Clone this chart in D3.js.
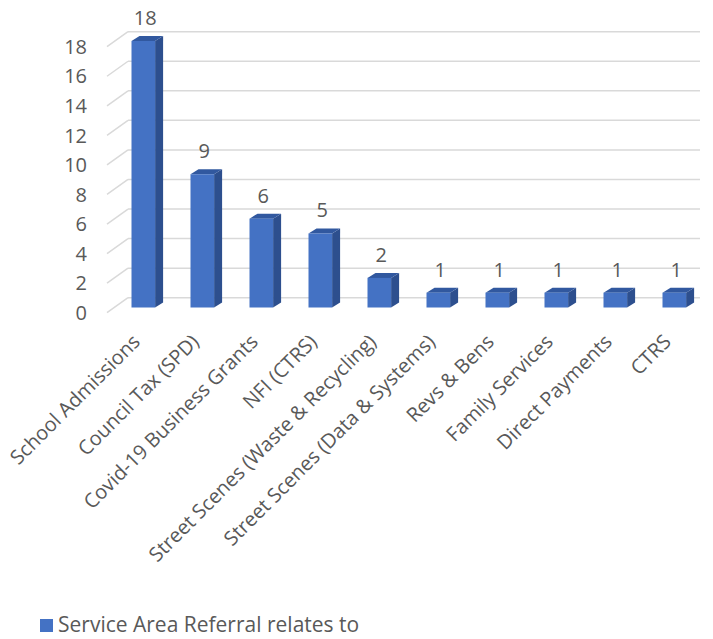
<!DOCTYPE html>
<html>
<head>
<meta charset="utf-8">
<script src="https://cdn.jsdelivr.net/npm/d3@7"></script>
<style>
  body { margin: 0; background: #fff; }
  text { font-family: "Open Sans", "Noto Sans", sans-serif; fill: #595959; }
</style>
</head>
<body>
<div id="chart"></div>
<script>
var categories = ["School Admissions", "Council Tax (SPD)", "Covid-19 Business Grants", "NFI (CTRS)",
  "Street Scenes (Waste & Recycling)", "Street Scenes (Data & Systems)", "Revs & Bens",
  "Family Services", "Direct Payments", "CTRS"];
var values = [18, 9, 6, 5, 2, 1, 1, 1, 1, 1];
var ticks = [0, 2, 4, 6, 8, 10, 12, 14, 16, 18];
var seriesName = "Service Area Referral relates to";

var width = 713, height = 639;
var depthX = 8, depthY = -5;   // 3d offset of bar sides
var wallX = 21, wallY = -15;   // side wall offset for gridlines

var svg = d3.select("#chart")
  .append("svg")
  .attr("width", width)
  .attr("height", height);

// back wall scale and bar front scale
var yBack = d3.scaleLinear().domain([0, 18]).range([297.7, 31.7]);
var yFront = d3.scaleLinear().domain([0, 18]).range([307.5, 41]);

var x = d3.scaleBand()
  .domain(categories)
  .range([113.8, 703.8])
  .paddingInner(0.6)
  .paddingOuter(0.3);

// gridlines: back wall + side wall diagonals
var grid = svg.append("g").attr("class", "grid");
ticks.forEach(function(t) {
  var yb = yBack(t);
  grid.append("line")
    .attr("x1", 128).attr("x2", 700)
    .attr("y1", yb).attr("y2", yb)
    .style("stroke", "#d9d9d9").style("stroke-width", 1.5);
  grid.append("line")
    .attr("x1", 128 - wallX).attr("y1", yb - wallY)
    .attr("x2", 128).attr("y2", yb)
    .style("stroke", "#d9d9d9").style("stroke-width", 1.5);
});

// y tick labels
svg.append("g")
  .selectAll("text")
  .data(ticks)
  .enter()
  .append("text")
  .attr("x", 87)
  .attr("y", function(d) { return yBack(d) - wallY; })
  .attr("dy", "0.36em")
  .style("text-anchor", "end")
  .style("font-size", "20px")
  .text(function(d) { return d; });

// bars
var bars = svg.selectAll(".bar")
  .data(values)
  .enter()
  .append("g")
  .attr("class", "bar");

bars.each(function(d, i) {
  var g = d3.select(this);
  var x0 = x(categories[i]), w = x.bandwidth();
  var yt = yFront(d), yb = yFront(0);
  // side face
  g.append("path")
    .attr("d", "M" + [x0 + w, yt] + "L" + [x0 + w + depthX, yt + depthY] +
      "L" + [x0 + w + depthX, yb + depthY] + "L" + [x0 + w, yb] + "Z")
    .style("fill", "#2d4f8e");
  // top face
  g.append("path")
    .attr("d", "M" + [x0, yt] + "L" + [x0 + depthX, yt + depthY] +
      "L" + [x0 + w + depthX, yt + depthY] + "L" + [x0 + w, yt] + "Z")
    .style("fill", "#31589f");
  // front face
  g.append("rect")
    .attr("x", x0)
    .attr("y", yt)
    .attr("width", w)
    .attr("height", yb - yt)
    .style("fill", "#4472c4");
});

// value labels
svg.append("g")
  .selectAll("text")
  .data(values)
  .enter()
  .append("text")
  .attr("x", function(d, i) { return x(categories[i]) + x.bandwidth() / 2 + 2; })
  .attr("y", function(d) { return yFront(d) - 16; })
  .style("text-anchor", "middle")
  .style("font-size", "20px")
  .text(function(d) { return d; });

// category labels, rotated
svg.append("g")
  .selectAll("text")
  .data(categories)
  .enter()
  .append("text")
  .attr("transform", function(d) {
    return "translate(" + [x(d) + x.bandwidth() / 2 - 2, 343] + ")rotate(-45)";
  })
  .style("text-anchor", "end")
  .style("font-size", "20px")
  .text(function(d) { return d; });

// legend
var legend = svg.append("g").attr("transform", "translate(40,619)");
legend.append("rect")
  .attr("width", 13).attr("height", 13)
  .style("fill", "#4472c4");
legend.append("text")
  .attr("x", 18)
  .attr("y", 13)
  .style("font-size", "21px")
  .text(seriesName);
</script>
</body>
</html>
